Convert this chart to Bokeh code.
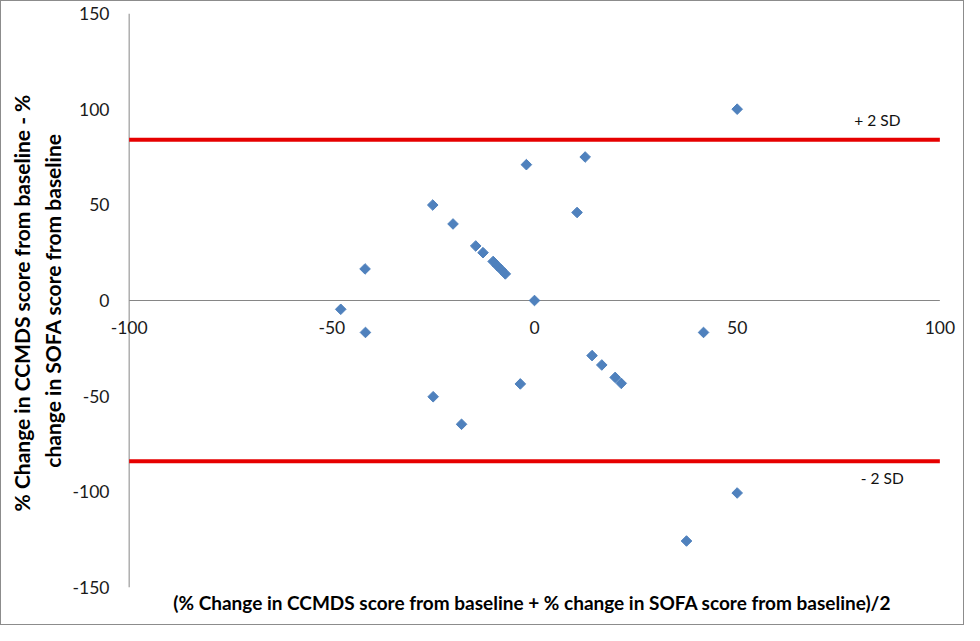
import math
from bokeh.plotting import figure
from bokeh.models import (Range1d, LinearAxis, FixedTicker, Label, ColumnDataSource)
from bokeh.embed import file_html
from bokeh.resources import INLINE

# ---- data ----
mean_pct = [50, 12.5, -2, 10.5, -25.1, -20.1, -14.5, -12.7, -10.2, -9.2, -8.2, -7.2,
            -41.8, 0, -47.8, -41.7, 41.7, 14.2, 16.6, 19.9, 21.4, -3.5, -25, -18,
            50, 37.5]
diff_pct = [100, 75, 71, 46, 49.9, 40, 28.5, 25, 20.4, 18.2, 16.1, 13.9,
            16.5, 0, -4.6, -16.7, -16.7, -28.8, -33.7, -40.2, -43.3, -43.6, -50.3, -64.7,
            -100.6, -125.7]
upper_sd = 84
lower_sd = -84
x_ticks = [-100, -50, 0, 50, 100]
y_ticks = [-150, -100, -50, 0, 50, 100, 150]
upper_label = "+ 2 SD"
lower_label = "- 2 SD"
x_title = "(% Change in  CCMDS score from baseline + % change in SOFA score from baseline)/2"
y_title_1 = "% Change in  CCMDS score from baseline - %"
y_title_2 = "change in SOFA score from baseline"

FONT = "Lato"
AXIS_GRAY = "#868686"
X_MIN, X_MAX = x_ticks[0], x_ticks[-1]
Y_MIN, Y_MAX = y_ticks[0], y_ticks[-1]

p = figure(width=964, height=625, output_backend="svg", toolbar_location=None,
           x_range=Range1d(-104.6, 104.6), y_range=Range1d(Y_MIN, Y_MAX),
           x_axis_location=None, y_axis_location=None,
           min_border_left=109, min_border_right=7, min_border_top=12,
           min_border_bottom=39)
p.grid.visible = False
p.outline_line_color = None
p.background_fill_color = "white"
p.border_fill_color = "white"
p.styles = {"border": "1px solid #8c8c8c"}


def bare_axis(ticks, **kw):
    ax = LinearAxis(ticker=FixedTicker(ticks=ticks), **kw)
    ax.axis_line_color = None
    ax.major_tick_line_color = None
    ax.minor_tick_line_color = None
    ax.major_tick_out = 0
    ax.major_tick_in = 0
    ax.major_label_text_font = FONT
    ax.major_label_text_font_size = "17.5px"
    ax.major_label_text_color = "#1a1a1a"
    ax.axis_label_text_font = FONT
    ax.axis_label_text_font_style = "bold"
    ax.axis_label_text_color = "#000000"
    return ax


# y tick labels (left edge of frame)
yaxis = bare_axis(y_ticks)
yaxis.major_label_standoff = 1
yaxis.major_label_overrides = {t: str(t) for t in y_ticks}
p.add_layout(yaxis, "left")

# y title, two lines
ytitle2 = bare_axis([], axis_label=y_title_2)
ytitle2.major_label_standoff = 0
ytitle2.axis_label_standoff = 5
ytitle2.axis_label_text_font_size = "21px"
p.add_layout(ytitle2, "left")

ytitle1 = bare_axis([], axis_label=y_title_1)
ytitle1.major_label_standoff = 0
ytitle1.axis_label_standoff = 3
ytitle1.axis_label_text_font_size = "21px"
p.add_layout(ytitle1, "left")

# x tick labels at y = 0
xaxis = bare_axis(x_ticks, fixed_location=0)
xaxis.major_label_standoff = 20
xaxis.major_label_overrides = {t: str(t) for t in x_ticks}
p.add_layout(xaxis, "below")

# x title
xtitle = bare_axis([], axis_label=x_title)
xtitle.major_label_standoff = 0
xtitle.axis_label_standoff = 3
xtitle.axis_label_text_font_size = "19px"
p.add_layout(xtitle, "below")

# axis lines
p.segment(x0=[X_MIN], y0=[0], x1=[X_MAX], y1=[0], line_color=AXIS_GRAY, line_width=1)
p.segment(x0=[X_MIN], y0=[Y_MIN], x1=[X_MIN], y1=[Y_MAX], line_color=AXIS_GRAY,
          line_width=1)

# +/- 2 SD lines
p.segment(x0=[X_MIN, X_MIN], y0=[upper_sd, lower_sd], x1=[X_MAX, X_MAX],
          y1=[upper_sd, lower_sd], line_color="#e60000", line_width=4)

# points
src = ColumnDataSource(dict(x=mean_pct, y=diff_pct))
p.scatter("x", "y", source=src, marker="square", size=7.5, angle=math.pi / 4,
          fill_color="#4f81bd", line_color="#4f81bd")

# SD labels
p.add_layout(Label(x=84.6, y=upper_sd + 10.5, text=upper_label, text_align="center",
                   text_baseline="middle", text_font=FONT, text_font_size="15.5px",
                   text_color="#111111"))
p.add_layout(Label(x=85.8, y=lower_sd - 9, text=lower_label, text_align="center",
                   text_baseline="middle", text_font=FONT, text_font_size="15.5px",
                   text_color="#111111"))

open("out.html", "w").write(file_html(p, INLINE))
